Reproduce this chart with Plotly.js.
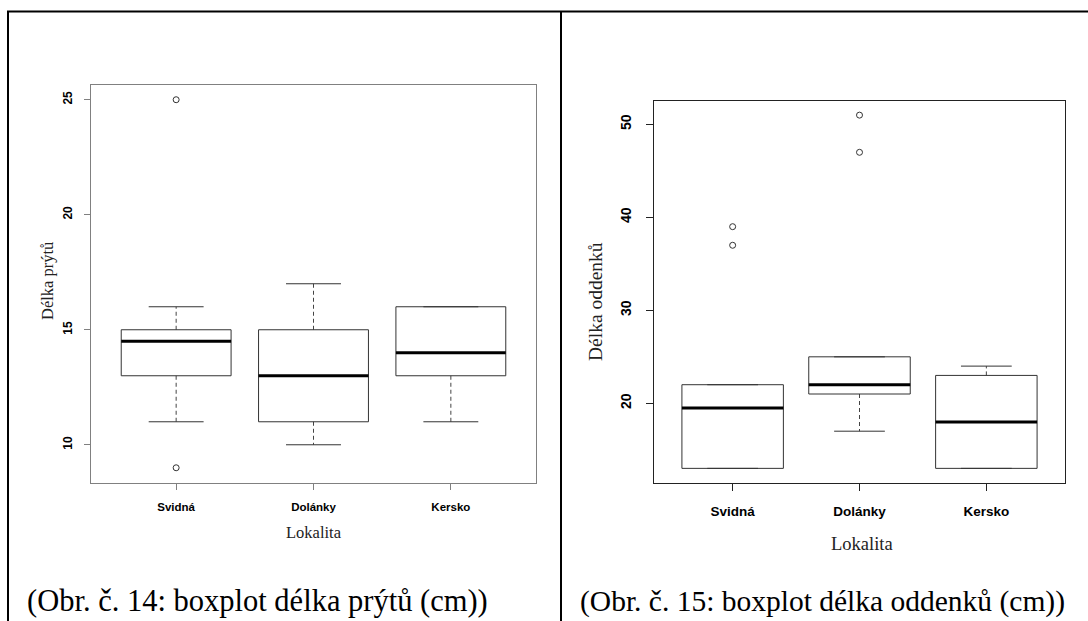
<!DOCTYPE html>
<html>
<head>
<meta charset="utf-8">
<script src="https://cdn.plot.ly/plotly-3.0.1.min.js"></script>
<style>html,body{margin:0;padding:0;background:#fff;}#chart{width:1088px;height:621px;}</style>
</head>
<body>
<div id="chart"></div>
<script>
// ---- data ----
var categories = ['Svidná', 'Dolánky', 'Kersko'];
var catPos = [1, 2, 3];

// Obr. 14: délka prýtů (cm)
var prytLower = [11, 10, 11];
var prytQ1 = [13, 11, 13];
var prytMedian = [14.5, 13, 14];
var prytQ3 = [15, 15, 16];
var prytUpper = [16, 17, 16];
var prytOutliers = [[25, 9], [], []];
var prytTicks = [10, 15, 20, 25];

// Obr. 15: délka oddenků (cm)
var oddLower = [13, 17, 13];
var oddQ1 = [13, 21, 13];
var oddMedian = [19.5, 22, 18];
var oddQ3 = [22, 25, 23];
var oddUpper = [22, 25, 24];
var oddOutliers = [[39, 37], [51, 47], []];
var oddTicks = [20, 30, 40, 50];

// ---- page geometry (pixels) ----
var W = 1088, H = 621;
function px(x) { return x / W; }
function py(y) { return 1 - y / H; }

var BOXW = 0.4, STAPLE = 0.2;

function boxTraces(lower, q1, med, q3, upper, outl, xa, ya) {
  var traces = [];
  var bx = [], by = [], mx = [], my = [], wx = [], wy = [], sx = [], sy = [], ox = [], oy = [];
  for (var i = 0; i < catPos.length; i++) {
    var c = catPos[i];
    bx.push(c - BOXW, c + BOXW, c + BOXW, c - BOXW, c - BOXW, null);
    by.push(q1[i], q1[i], q3[i], q3[i], q1[i], null);
    mx.push(c - BOXW, c + BOXW, null);
    my.push(med[i], med[i], null);
    wx.push(c, c, null, c, c, null);
    wy.push(q3[i], upper[i], null, q1[i], lower[i], null);
    sx.push(c - STAPLE, c + STAPLE, null, c - STAPLE, c + STAPLE, null);
    sy.push(upper[i], upper[i], null, lower[i], lower[i], null);
    for (var j = 0; j < outl[i].length; j++) { ox.push(c); oy.push(outl[i][j]); }
  }
  var common = {xaxis: xa, yaxis: ya, mode: 'lines', hoverinfo: 'skip', showlegend: false, cliponaxis: false};
  traces.push(Object.assign({x: wx, y: wy, line: {color: '#444', width: 1, dash: '4px,3px'}, type: 'scatter'}, common));
  traces.push(Object.assign({x: sx, y: sy, line: {color: '#333', width: 1}, type: 'scatter'}, common));
  traces.push(Object.assign({x: bx, y: by, line: {color: '#333', width: 1}, type: 'scatter'}, common));
  traces.push(Object.assign({x: mx, y: my, line: {color: '#000', width: 3}, type: 'scatter'}, common));
  traces.push({x: ox, y: oy, xaxis: xa, yaxis: ya, type: 'scatter', mode: 'markers', showlegend: false, hoverinfo: 'skip',
    marker: {symbol: 'circle-open', size: 6, color: '#333', line: {width: 1, color: '#333'}}});
  return traces;
}

var data = [].concat(
  boxTraces(prytLower, prytQ1, prytMedian, prytQ3, prytUpper, prytOutliers, 'x', 'y'),
  boxTraces(oddLower, oddQ1, oddMedian, oddQ3, oddUpper, oddOutliers, 'x2', 'y2')
);

function padRange(lo, hi) { var d = (hi - lo) * 0.04; return [lo - d, hi + d]; }
var xr = padRange(0.5, 3.5);

var leftFrame = '#808080', rightFrame = '#222';
var tickFontL = {family: 'Liberation Sans, Arial, sans-serif', size: 11.5, color: '#000', weight: 'bold'};
var tickFontR = {family: 'Liberation Sans, Arial, sans-serif', size: 13.5, color: '#000', weight: 'bold'};
var serif = 'Liberation Serif, Times New Roman, serif';

var layout = {
  width: W, height: H,
  margin: {l: 0, r: 0, t: 0, b: 0},
  paper_bgcolor: '#fff', plot_bgcolor: '#fff',
  showlegend: false,
  xaxis: {domain: [px(91), px(536)], range: xr, tickvals: catPos, ticktext: categories,
    showgrid: false, zeroline: false, showline: true, mirror: true, linecolor: leftFrame, linewidth: 1,
    ticks: 'outside', ticklen: 6, tickcolor: leftFrame, tickfont: tickFontL, ticklabelstandoff: 8, fixedrange: true},
  yaxis: {domain: [py(482.5), py(85)], range: padRange(9, 25), tickvals: prytTicks, tickangle: -90,
    showgrid: false, zeroline: false, showline: true, mirror: true, linecolor: leftFrame, linewidth: 1,
    ticks: 'outside', ticklen: 6, tickcolor: leftFrame, tickfont: Object.assign({}, tickFontL, {size: 12}), ticklabelstandoff: 7, fixedrange: true},
  xaxis2: {domain: [px(654), px(1065)], range: xr, tickvals: catPos, ticktext: categories, anchor: 'y2',
    showgrid: false, zeroline: false, showline: true, mirror: true, linecolor: rightFrame, linewidth: 1,
    ticks: 'outside', ticklen: 7, tickcolor: rightFrame, tickfont: tickFontR, ticklabelstandoff: 9, fixedrange: true},
  yaxis2: {domain: [py(482.5), py(101)], range: padRange(13, 51), tickvals: oddTicks, tickangle: -90, anchor: 'x2',
    showgrid: false, zeroline: false, showline: true, mirror: true, linecolor: rightFrame, linewidth: 1,
    ticks: 'outside', ticklen: 7, tickcolor: rightFrame, tickfont: Object.assign({}, tickFontR, {size: 14}), ticklabelstandoff: 9, fixedrange: true},
  shapes: [
    {type: 'line', xref: 'paper', yref: 'paper', x0: px(7), x1: 1, y0: py(11.5), y1: py(11.5), line: {color: '#000', width: 2}},
    {type: 'line', xref: 'paper', yref: 'paper', x0: px(8), x1: px(8), y0: py(11), y1: 0, line: {color: '#000', width: 2}},
    {type: 'line', xref: 'paper', yref: 'paper', x0: px(561), x1: px(561), y0: py(11), y1: 0, line: {color: '#000', width: 2}}
  ],
  annotations: [
    {text: 'Délka prýtů', xref: 'paper', yref: 'paper', x: px(47), y: py(281), xanchor: 'center', yanchor: 'middle', textangle: -90, showarrow: false,
      font: {family: serif, size: 16.5, color: '#222'}},
    {text: 'Lokalita', xref: 'paper', yref: 'paper', x: px(313.5), y: py(532), xanchor: 'center', yanchor: 'middle', showarrow: false,
      font: {family: serif, size: 16.5, color: '#222'}},
    {text: 'Délka oddenků', xref: 'paper', yref: 'paper', x: px(596), y: py(302), xanchor: 'center', yanchor: 'middle', textangle: -90, showarrow: false,
      font: {family: serif, size: 19.5, color: '#222'}},
    {text: 'Lokalita', xref: 'paper', yref: 'paper', x: px(862), y: py(544), xanchor: 'center', yanchor: 'middle', showarrow: false,
      font: {family: serif, size: 18.5, color: '#222'}},
    {text: '(Obr. č. 14: boxplot délka prýtů (cm))', xref: 'paper', yref: 'paper', x: px(25), y: py(601), xanchor: 'left', yanchor: 'middle', showarrow: false,
      font: {family: serif, size: 30.5, color: '#000'}},
    {text: '(Obr. č. 15: boxplot délka oddenků (cm))', xref: 'paper', yref: 'paper', x: px(578), y: py(601), xanchor: 'left', yanchor: 'middle', showarrow: false,
      font: {family: serif, size: 29.5, color: '#000'}}
  ]
};

Plotly.newPlot('chart', data, layout, {staticPlot: true, displayModeBar: false});
</script>
</body>
</html>
